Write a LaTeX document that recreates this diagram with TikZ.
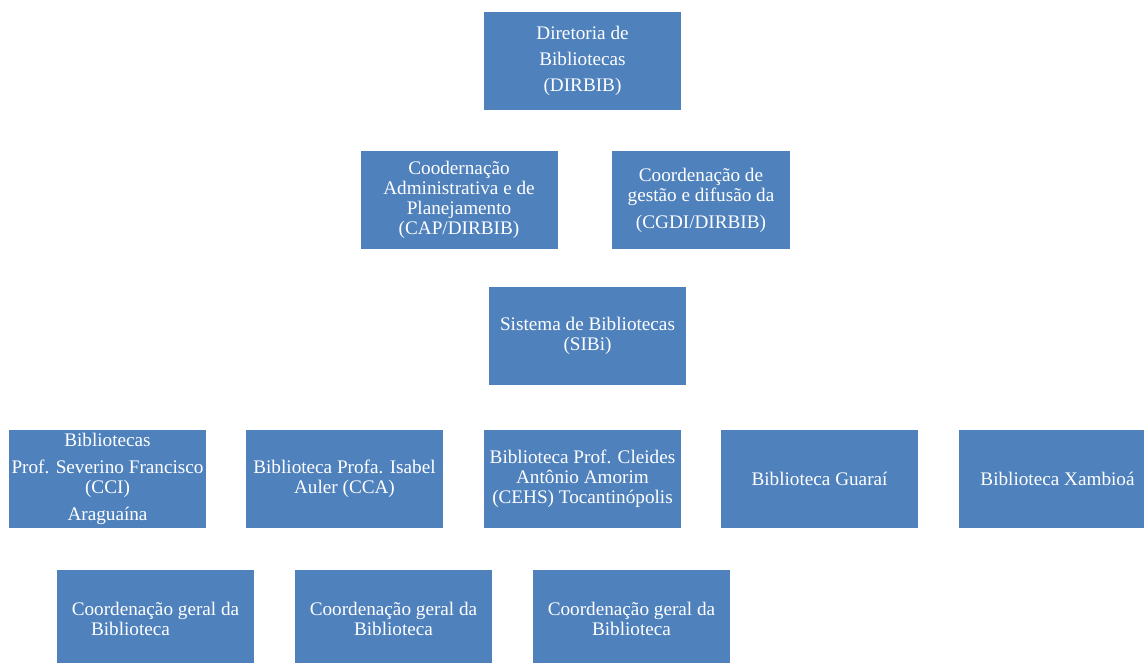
\documentclass[tikz,border=0pt]{standalone}
\usepackage{fontspec}
\setmainfont{Liberation Serif}
\definecolor{boxblue}{HTML}{4F81BD}
\tikzset{
  orgbox/.style={rectangle, fill=boxblue, text=white, align=center,
    minimum width=197pt, minimum height=98pt, inner sep=0pt,
    font=\fontsize{19.2}{20}\selectfont},
}
\begin{document}
\begin{tikzpicture}[x=1pt,y=-1pt]
\useasboundingbox (0,0) rectangle (1144,663);
\node[orgbox] (dirbib) at (582.5,61) {Diretoria de\\[6pt]Bibliotecas\\[6pt](DIRBIB)};
\node[orgbox] (cap) at (459,200) {Coodernação\\Administrativa e de\\Planejamento\\(CAP/DIRBIB)};
\node[orgbox, minimum width=178pt] (cgdi) at (701,200) {Coordenação de\\gestão e difusão da\\[7pt](CGDI/DIRBIB)};
\node[orgbox] (sibi) at (587.5,336) {Sistema de Bibliotecas\\(SIBi)};
\node[orgbox] (cci) at (107.5,479) {Bibliotecas\\[7pt]Prof. Severino Francisco\\(CCI)\\[7pt]Araguaína};
\node[orgbox] (cca) at (344.5,479) {Biblioteca Profa. Isabel\\Auler (CCA)};
\node[orgbox] (cehs) at (582.5,479) {Biblioteca Prof. Cleides\\Antônio Amorim\\(CEHS) Tocantinópolis};
\node[orgbox] (guarai) at (819.5,479) {Biblioteca Guaraí};
\node[orgbox] (xambioa) at (1057.5,479) {Biblioteca Xambioá};
\node[orgbox] (coord1) at (155.5,619) {Coordenação geral da\\Biblioteca\hspace*{50pt}};
\node[orgbox] (coord2) at (393.5,619) {Coordenação geral da\\Biblioteca};
\node[orgbox] (coord3) at (631.5,619) {Coordenação geral da\\Biblioteca};
\end{tikzpicture}
\end{document}
